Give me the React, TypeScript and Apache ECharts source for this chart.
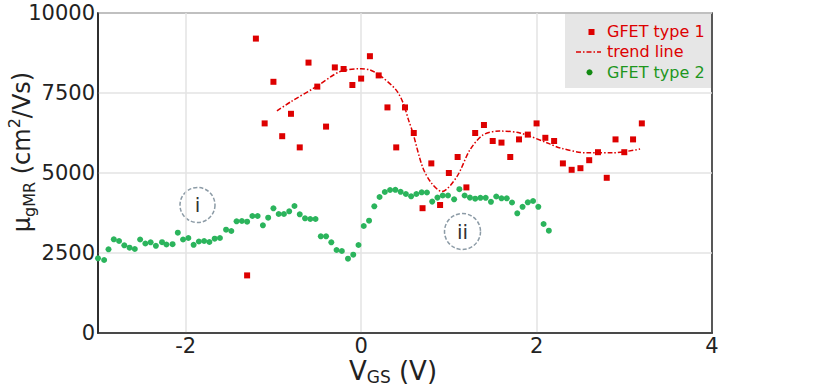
import React, { useEffect, useRef } from "react";
import * as echarts from "echarts";

// GFET type 1 (red squares): [V_GS, mobility]
const type1Points: [number, number][] = [
  [-1.3, 1800], [-1.2, 9200], [-1.1, 6550], [-1.0, 7850], [-0.9, 6150], [-0.8, 6850],
  [-0.7, 5800], [-0.6, 8450], [-0.5, 7700], [-0.4, 6450], [-0.3, 8300], [-0.2, 8250],
  [-0.1, 7750], [0.0, 7950], [0.1, 8650], [0.2, 8050], [0.3, 7050], [0.4, 5800],
  [0.5, 7050], [0.6, 6250], [0.7, 3900], [0.8, 5300], [0.9, 4000], [1.0, 5000],
  [1.1, 5500], [1.2, 4550], [1.3, 6250], [1.4, 6500], [1.5, 6000], [1.6, 5950],
  [1.7, 5500], [1.8, 6050], [1.9, 6200], [2.0, 6550], [2.1, 6100], [2.2, 6000],
  [2.3, 5300], [2.4, 5100], [2.5, 5150], [2.6, 5400], [2.7, 5650], [2.8, 4850],
  [2.9, 6050], [3.0, 5650], [3.1, 6050], [3.2, 6550],
];

// trend line through type 1
const trendLine: [number, number][] = [
  [-0.96, 6940], [-0.8, 7230], [-0.51, 7700], [-0.24, 8170], [0.0, 8260], [0.1, 8220],
  [0.21, 8060], [0.4, 7590], [0.48, 7180], [0.54, 6660], [0.59, 6250], [0.7, 5190],
  [0.8, 4690], [0.92, 4420], [1.09, 4880], [1.24, 5720], [1.39, 6190], [1.58, 6310],
  [1.81, 6250], [2.15, 5910], [2.27, 5780], [2.57, 5630], [2.87, 5630], [3.18, 5750],
];

// GFET type 2 (green dots)
const type2Points: [number, number][] = [
  [-3.0, 2334], [-2.93, 2281], [-2.88, 2616], [-2.82, 2928], [-2.76, 2875], [-2.7, 2741],
  [-2.64, 2666], [-2.58, 2625], [-2.52, 2922], [-2.46, 2797], [-2.4, 2834], [-2.34, 2725],
  [-2.27, 2838], [-2.22, 2766], [-2.15, 2775], [-2.09, 3134], [-2.03, 2922], [-1.97, 2969],
  [-1.91, 2756], [-1.85, 2859], [-1.79, 2875], [-1.73, 2844], [-1.67, 2947], [-1.61, 2969],
  [-1.54, 3228], [-1.48, 3188], [-1.42, 3491], [-1.36, 3500], [-1.3, 3478], [-1.24, 3656],
  [-1.18, 3656], [-1.12, 3366], [-1.06, 3603], [-1.0, 3897], [-0.94, 3719], [-0.88, 3719],
  [-0.82, 3803], [-0.76, 3969], [-0.7, 3709], [-0.64, 3584], [-0.58, 3563], [-0.52, 3563],
  [-0.46, 3022], [-0.4, 3022], [-0.34, 2834], [-0.28, 2594], [-0.22, 2563], [-0.15, 2322],
  [-0.09, 2447], [-0.03, 2750], [0.03, 3344], [0.09, 3509], [0.15, 3959], [0.21, 4250],
  [0.27, 4406], [0.33, 4469], [0.39, 4475], [0.45, 4413], [0.51, 4344], [0.57, 4272],
  [0.63, 4344], [0.69, 4397], [0.75, 4391], [0.81, 4106], [0.87, 4231], [0.93, 4297],
  [0.99, 4297], [1.06, 4178], [1.12, 4494], [1.18, 4297], [1.24, 4231], [1.3, 4197],
  [1.36, 4225], [1.42, 4225], [1.48, 4100], [1.54, 4266], [1.6, 4209], [1.66, 4209],
  [1.72, 4078], [1.78, 3741], [1.84, 3944], [1.9, 4084], [1.96, 4125], [2.02, 3944],
  [2.08, 3406], [2.14, 3197],
];

const xTickValues = [-2, 0, 2, 4];
const xGridValues = [-2, 0, 2];

const RED = "#dd0000";
const GREEN = "#2bb45c";
const FONT = "DejaVu Sans";

function measure(text: string, size: number): number {
  const c = document.createElement("canvas");
  const ctx = c.getContext("2d")!;
  ctx.font = `${size}px "${FONT}"`;
  return ctx.measureText(text).width;
}

type Piece = { t: string; s: number; dy: number };

function textRun(pieces: Piece[], color: string) {
  const widths = pieces.map((p) => measure(p.t, p.s));
  const total = widths.reduce((a, b) => a + b, 0);
  let x = -total / 2;
  return pieces.map((p, i) => {
    const el = {
      type: "text",
      x,
      y: p.dy,
      style: {
        text: p.t,
        fontSize: p.s,
        fontFamily: FONT,
        fill: color,
        align: "left",
        verticalAlign: "middle",
      },
    };
    x += widths[i];
    return el;
  });
}

export default function App() {
  const ref = useRef<HTMLDivElement>(null);

  useEffect(() => {
    if (!ref.current) return;
    const chart = echarts.init(ref.current, undefined, { renderer: "svg" });

    const yTitle = textRun(
      [
        { t: "μ", s: 24, dy: 0 },
        { t: "gMR", s: 16, dy: 7 },
        { t: " (cm", s: 24, dy: 0 },
        { t: "2", s: 16, dy: -8 },
        { t: "/Vs)", s: 24, dy: 0 },
      ],
      "#222"
    );
    const xTitle = textRun(
      [
        { t: "V", s: 26, dy: 0 },
        { t: "GS", s: 17, dy: 6 },
        { t: " (V)", s: 26, dy: 0 },
      ],
      "#222"
    );

    chart.setOption({
      animation: false,
      grid: {
        left: 98,
        right: 118,
        top: 13,
        bottom: 53,
        show: true,
        borderColor: "#222",
        borderWidth: 1.5,
        backgroundColor: "transparent",
      },
      xAxis: {
        type: "value",
        min: -3,
        max: 4,
        axisLine: { show: true, onZero: false, lineStyle: { color: "#222", width: 1.5 } },
        axisTick: { show: false, customValues: xGridValues },
        axisLabel: {
          customValues: xTickValues,
          fontSize: 21,
          fontFamily: FONT,
          color: "#222",
          margin: 2,
          formatter: (v: number) => (v < 0 ? "-" + Math.abs(v) : String(v)),
        },
        splitLine: { show: true, lineStyle: { color: "#e3e3e3", width: 1.5 } },
      },
      yAxis: {
        type: "value",
        min: 0,
        max: 10000,
        interval: 2500,
        axisLine: { show: true, onZero: false, lineStyle: { color: "#222", width: 1.5 } },
        axisTick: { show: false },
        axisLabel: {
          fontSize: 21,
          fontFamily: FONT,
          color: "#222",
          margin: 3,
          formatter: (v: number) => String(v),
        },
        splitLine: { show: true, lineStyle: { color: "#e3e3e3", width: 1.5 } },
      },
      series: [
        {
          name: "GFET type 2",
          type: "scatter",
          data: type2Points,
          symbol: "circle",
          symbolSize: 6,
          itemStyle: { color: GREEN, opacity: 1 },
          z: 2,
        },
        {
          name: "trend line",
          type: "line",
          data: trendLine,
          smooth: 0.3,
          showSymbol: false,
          symbol: "none",
          lineStyle: { color: RED, width: 1.5, type: [5, 2, 1.5, 2] },
          z: 3,
        },
        {
          name: "GFET type 1",
          type: "scatter",
          data: type1Points,
          symbol: "rect",
          symbolSize: 6,
          itemStyle: { color: RED, opacity: 1 },
          z: 4,
        },
      ],
      graphic: [
        {
          type: "group",
          x: 22,
          y: 152,
          rotation: Math.PI / 2,
          children: yTitle,
        },
        {
          type: "group",
          x: 393,
          y: 371,
          children: xTitle,
        },
        // annotation circles
        {
          type: "circle",
          shape: { cx: 197.5, cy: 205, r: 17.5 },
          style: { fill: "none", stroke: "#8c9ba6", lineWidth: 1.5, lineDash: [4, 2] },
        },
        {
          type: "text",
          x: 197.5,
          y: 205,
          style: { text: "i", fontSize: 20, fontFamily: FONT, fill: "#333", align: "center", verticalAlign: "middle" },
        },
        {
          type: "circle",
          shape: { cx: 462.5, cy: 231.5, r: 18 },
          style: { fill: "none", stroke: "#8c9ba6", lineWidth: 1.5, lineDash: [4, 2] },
        },
        {
          type: "text",
          x: 462.5,
          y: 231.5,
          style: { text: "ii", fontSize: 20, fontFamily: FONT, fill: "#333", align: "center", verticalAlign: "middle" },
        },
        // legend
        {
          type: "rect",
          shape: { x: 565, y: 14, width: 146, height: 74 },
          style: { fill: "#e6e6e6" },
        },
        {
          type: "rect",
          shape: { x: 588.5, y: 29, width: 6, height: 6 },
          style: { fill: RED },
        },
        {
          type: "text",
          x: 607,
          y: 31,
          style: { text: "GFET type 1", fontSize: 16, fontFamily: FONT, fill: RED, verticalAlign: "middle" },
        },
        {
          type: "line",
          shape: { x1: 576, y1: 52, x2: 601, y2: 52 },
          style: { stroke: RED, lineWidth: 1.5, lineDash: [5, 2, 1.5, 2] },
        },
        {
          type: "text",
          x: 607,
          y: 51,
          style: { text: "trend line", fontSize: 16, fontFamily: FONT, fill: RED, verticalAlign: "middle" },
        },
        {
          type: "circle",
          shape: { cx: 589.5, cy: 72.3, r: 3 },
          style: { fill: "#138a13" },
        },
        {
          type: "text",
          x: 607,
          y: 72,
          style: { text: "GFET type 2", fontSize: 16, fontFamily: FONT, fill: "#1e961e", verticalAlign: "middle" },
        },
      ],
    });

    return () => chart.dispose();
  }, []);

  return (
    <div
      ref={ref}
      style={{ position: "fixed", left: 0, top: 0, width: 830, height: 386, background: "#fff" }}
    />
  );
}
